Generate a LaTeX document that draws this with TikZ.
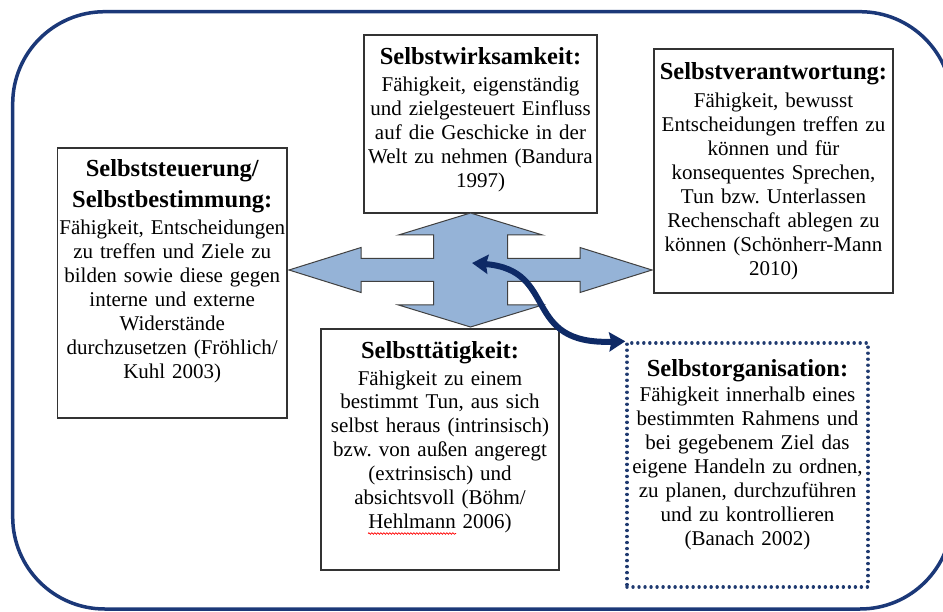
\documentclass[tikz,border=0pt]{standalone}
\usepackage{fontspec}
\setmainfont{Liberation Serif}
\usetikzlibrary{arrows.meta,decorations.pathmorphing}
\definecolor{framenavy}{HTML}{1B3878}
\definecolor{linknavy}{HTML}{0E2A66}
\definecolor{dotnavy}{HTML}{1F3A70}
\definecolor{crossblue}{HTML}{95B3D7}
\tikzset{
  box/.style={rectangle, draw=black!80, line width=1.2pt, fill=white, inner sep=0pt},
  dotbox/.style={rectangle, draw=dotnavy, line width=3.4pt, dash pattern=on 0.01pt off 6pt, line cap=round, fill=white, inner sep=0pt},
  ttl/.style={inner sep=0pt, anchor=base, align=center, text width=280pt, font=\fontsize{24.5}{31}\selectfont\bfseries},
  body/.style={inner sep=0pt, anchor=base, align=center, text width=280pt, font=\fontsize{21}{23.9}\selectfont},
  frame/.style={draw=framenavy, line width=3.5pt, rounded corners=92pt},
  crossarrow/.style={fill=crossblue, draw=black!75, line width=1pt, line join=miter},
  link/.style={draw=linknavy, line width=6pt, {Stealth[length=16pt,width=19pt,inset=2pt]}-{Stealth[length=16pt,width=19pt,inset=2pt]}},
  spell/.style={draw=red, line width=0.7pt, decorate, decoration={snake, amplitude=0.8pt, segment length=3pt}}
}
\frenchspacing
\begin{document}
\begin{tikzpicture}[x=1pt,y=-1pt]
\useasboundingbox (0,0) rectangle (943,612);
\fill[white] (0,0) rectangle (943,612);
% outer frame
\draw[frame] (12.7,11.7) rectangle (952,609);

% boxes
\node[box, minimum width=233pt, minimum height=178pt] (wirk) at (480.5,124) {};
\node[box, minimum width=229.5pt, minimum height=270pt] (steu) at (172.25,283) {};
\node[box, minimum width=239pt, minimum height=244pt] (vera) at (773.5,171) {};
\node[box, minimum width=238pt, minimum height=241pt] (taet) at (440,449.5) {};
\node[dotbox, minimum width=241pt, minimum height=244pt] (orga) at (747.5,465) {};

% four-way arrow
\draw[crossarrow] (470.5,213) -- (542.5,235) -- (507.5,235) -- (507.5,258.5) -- (580,258.5) -- (580,247.5)
  -- (652,270) -- (580,292.5) -- (580,281.5) -- (507.5,281.5) -- (507.5,305) -- (542.5,305)
  -- (470.5,327) -- (398.5,305) -- (433.5,305) -- (433.5,281.5) -- (361,281.5) -- (361,292.5)
  -- (289,270) -- (361,247.5) -- (361,258.5) -- (433.5,258.5) -- (433.5,235) -- (398.5,235) -- cycle;

% texts
\node[ttl] (wirkT) at (480.5,65) {Selbstwirksamkeit:};
\node[body] (wirkB) at (480.5,91.7) {Fähigkeit, eigenständig\\und zielgesteuert Einfluss\\auf die Geschicke in der\\Welt zu nehmen (Bandura\\1997)};

\node[ttl] (steuT) at (172.25,176.7) {Selbststeuerung/\\Selbstbestimmung:};
\node[body] (steuB) at (172.25,235) {Fähigkeit, Entscheidungen\\zu treffen und Ziele zu\\bilden sowie diese gegen\\interne und externe\\Widerstände\\durchzusetzen (Fröhlich/\\Kuhl 2003)};

\node[ttl] (veraT) at (773.5,80) {Selbstverantwortung:};
\node[body] (veraB) at (773.5,107.8) {Fähigkeit, bewusst\\Entscheidungen treffen zu\\können und für\\konsequentes Sprechen,\\Tun bzw. Unterlassen\\Rechenschaft ablegen zu\\können (Schönherr-Mann\\2010)};

\node[ttl] (taetT) at (440,358.7) {Selbsttätigkeit:};
\node[body] (taetB) at (440,385) {Fähigkeit zu einem\\bestimmt Tun, aus sich\\selbst heraus (intrinsisch)\\bzw. von außen angeregt\\(extrinsisch) und\\absichtsvoll (Böhm/\\Hehlmann 2006)};
\draw[spell] (368,533.5) -- (456,533.5);

\node[ttl] (orgaT) at (747.5,376.7) {Selbstorganisation:};
\node[body] (orgaB) at (747.5,401.7) {Fähigkeit innerhalb eines\\bestimmten Rahmens und\\bei gegebenem Ziel das\\eigene Handeln zu ordnen,\\zu planen, durchzuführen\\und zu kontrollieren\\(Banach 2002)};

% curved double arrow
\coordinate (hub) at (472,263);
\draw[link] (hub) .. controls (560,270) and (520,345) .. (orga.north west);
\end{tikzpicture}
\end{document}
